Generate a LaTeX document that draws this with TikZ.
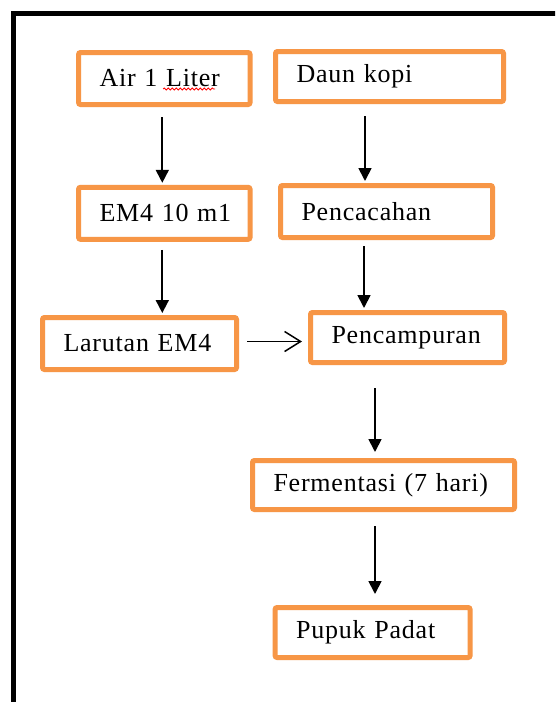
\documentclass[tikz,border=0pt]{standalone}
\usepackage{fontspec}
\setmainfont{Liberation Serif}[LetterSpace=3]
\usetikzlibrary{arrows.meta,decorations.pathmorphing}
\definecolor{boxorange}{RGB}{247,150,70}
\tikzset{
  box/.style={draw=boxorange, line width=5pt, rounded corners=2pt, fill=white,
    align=left, inner xsep=21pt, inner ysep=0pt,
    font=\fontsize{26}{30}\selectfont},
  arr/.style={line width=1.8pt, -{Triangle[width=13pt,length=13pt]}},
  openarr/.style={line width=1.5pt, -{Straight Barb[width=20pt,length=16pt,line width=1.5pt]}}
}

\begin{document}
\begin{tikzpicture}[x=1pt,y=-1pt]
      \clip (0,0) rectangle (555,702);
      \fill[white] (0,0) rectangle (555,702);
      \draw[line width=5pt] (13,720) -- (13,13) -- (570,13);
      \node[box, text width=129.5pt, minimum height=52pt] (air) at (164.3,78.5) {\mbox{Air 1 Liter}};
      \node[box, text width=186pt, minimum height=50pt] (daun) at (389.5,76.5) {\mbox{Daun kopi}};
      \node[box, text width=129.5pt, minimum height=52pt] (em) at (164.3,213.3) {\mbox{EM4 10 m1}};
      \node[box, text width=170pt, minimum height=52pt] (cacah) at (386.5,211.5) {\mbox{Pencacahan}};
      \node[box, text width=152pt, minimum height=52pt] (larutan) at (139.5,343.5) {\mbox{Larutan EM4}};
      \node[box, text width=152pt, minimum height=50pt] (campur) at (407.5,337.5) {\mbox{Pencampuran}};
      \node[box, text width=220pt, minimum height=49pt] (fermen) at (383.5,485) {\mbox{Fermentasi (7 hari)}};
      \node[box, text width=153pt, minimum height=50pt] (pupuk) at (372.6,632.5) {\mbox{Pupuk Padat}};
      \foreach \a/\b/\dx/\s/\e in {air/em/-2/10/2, daun/cacah/-24.5/12/2, em/larutan/-2/8/2,
        cacah/campur/-22.5/6/2, campur/fermen/-32.5/23/6, fermen/pupuk/-8.5/14/11} {
	\draw[arr, shorten <=\s pt, shorten >=\e pt] ([xshift=\dx pt]\a.south) -- ([xshift=\dx pt]\a.south |- \b.north);
      };
      \draw[openarr, shorten <=8pt, shorten >=6pt] ([yshift=2pt]larutan.east) -- ([yshift=2pt]larutan.east -| campur.west);
      % spelling mark under Liter
      \draw[red, line width=0.8pt, decorate, decoration={snake, amplitude=1pt, segment length=4pt}]
        ([shift={(87,10.5)}]air.west) -- ([shift={(139,10.5)}]air.west);
    \end{tikzpicture}
\end{document}
